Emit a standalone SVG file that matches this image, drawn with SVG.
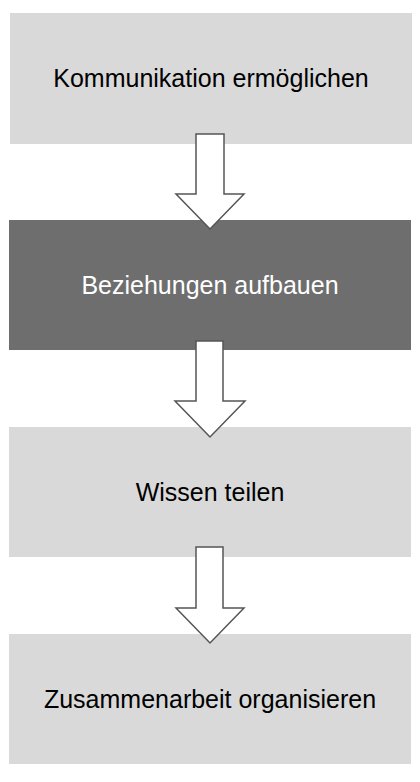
<svg xmlns="http://www.w3.org/2000/svg" width="420" height="782" viewBox="0 0 420 782">
<style>
.light{fill:#d9d9d9}
.dark{fill:#6e6e6e}
.t{font-family:"Liberation Sans",Arial,sans-serif;font-size:25px;text-anchor:middle}
.tl{fill:#000}
.td{fill:#fff}
.arr{fill:#fff;stroke:#555;stroke-width:1.5;stroke-linejoin:miter}
</style>
<rect width="420" height="782" fill="#fff"/>
<g id="node1"><rect class="light" x="10" y="13" width="402" height="131"/><text class="t tl" x="211" y="87">Kommunikation ermöglichen</text></g>
<g id="node2"><rect class="dark" x="9" y="220" width="402" height="130"/><text class="t td" x="210" y="294">Beziehungen aufbauen</text></g>
<g id="node3"><rect class="light" x="9" y="427" width="402" height="130"/><text class="t tl" x="210" y="501">Wissen teilen</text></g>
<g id="node4"><rect class="light" x="9" y="634" width="402" height="130"/><text class="t tl" x="210" y="708">Zusammenarbeit organisieren</text></g>
<g id="connectors">
<polygon class="arr" points="196,134 224,134 224,194 244,194 210,229 176,194 196,194"/>
<polygon class="arr" points="196,341 223,341 223,401 245,401 210,437 175,401 196,401"/>
<polygon class="arr" points="196,547 223,547 223,608 244,608 210,643 176,608 196,608"/>
</g>
</svg>
